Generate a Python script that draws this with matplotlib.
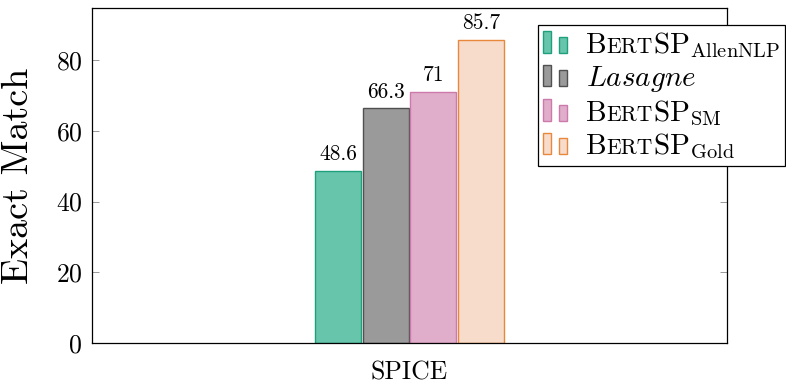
import matplotlib
matplotlib.use("Agg")
import matplotlib.pyplot as plt
from matplotlib.patches import Rectangle
from matplotlib.offsetbox import (AnchoredOffsetbox, DrawingArea, HPacker,
                                  TextArea, VPacker)

plt.rcParams["font.family"] = "cmr10"
plt.rcParams["mathtext.fontset"] = "cm"
plt.rcParams["axes.formatter.use_mathtext"] = True

# data
category = "SPICE"
systems = ["AllenNLP", "Lasagne", "SM", "Gold"]
scores = [48.6, 66.3, 71, 85.7]
fills = ["#66c5ab", "#9a9a9a", "#e0aecb", "#f7dccb"]
edges = ["#1fa07c", "#505050", "#cc7aac", "#e8883c"]

fig = plt.figure(figsize=(7.86, 3.84), dpi=100)
ax = fig.add_axes([92 / 786, 1 - 343 / 384, 635 / 786, 335 / 384])

step = 0.15
width = 0.144
n = len(scores)
for i, (v, fc, ec) in enumerate(zip(scores, fills, edges)):
    x = (i - (n - 1) / 2) * step
    bars = ax.bar([x], [v], width=width, color=fc, edgecolor=ec, linewidth=1.0, zorder=2)
    ax.bar_label(bars, labels=[f"{v:g}"], padding=5, fontsize=15.5)

ax.set_xlim(-1, 1)
ax.set_ylim(0, 94.7)
ax.set_yticks([0, 20, 40, 60, 80])
ax.set_xticks([0])
ax.set_xticklabels([category], fontsize=18.5)
ax.tick_params(axis="x", length=0, pad=13)
ax.tick_params(axis="y", direction="in", length=5, width=0.6, color="#888888",
               labelsize=18.5, pad=7, right=True)
ax.set_ylabel("Exact Match", fontsize=27.5)
ax.yaxis.set_label_coords((35 - 92) / 635, 0.5)
for s in ax.spines.values():
    s.set_linewidth(0.9)

# legend with two-bar glyphs and small-caps names
LEG_SIZE = 21


def glyph(fc, ec):
    da = DrawingArea(30, 16, 0, 0)
    da.add_artist(Rectangle((0, 0), 5.8, 15.5, facecolor=fc, edgecolor=ec, linewidth=1.0))
    da.add_artist(Rectangle((11.5, 0), 6.2, 11.5, facecolor=fc, edgecolor=ec, linewidth=1.0))
    return da


def bertsp(sub, size=LEG_SIZE):
    parts = [TextArea("B", textprops=dict(fontsize=size)),
             TextArea("ERT", textprops=dict(fontsize=size * 0.74)),
             TextArea(r"SP$_{\mathrm{%s}}$" % sub, textprops=dict(fontsize=size))]
    return HPacker(children=parts, sep=0, pad=0, align="baseline")


rows = []
for name, fc, ec in zip(systems, fills, edges):
    if name == "Lasagne":
        label = TextArea(r"$\mathit{Lasagne}$", textprops=dict(fontsize=LEG_SIZE))
    else:
        label = bertsp(name)
    rows.append(HPacker(children=[glyph(fc, ec), label], sep=1, pad=0, align="baseline"))

box = VPacker(children=rows, sep=3, pad=0, align="left")
leg = AnchoredOffsetbox(loc="upper left", child=box, pad=0.35, borderpad=0,
                        frameon=True, bbox_to_anchor=(538 / 786, 1 - 25 / 384),
                        bbox_transform=fig.transFigure)
leg.patch.set_edgecolor("black")
leg.patch.set_linewidth(0.9)
leg.zorder = 5
ax.add_artist(leg)

fig.savefig("out.png", dpi=100)
